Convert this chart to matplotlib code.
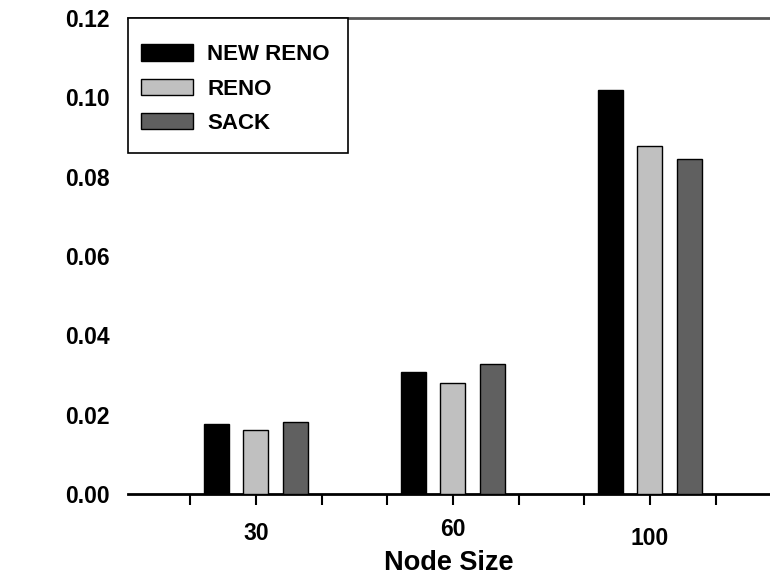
import matplotlib
matplotlib.use("Agg")
import matplotlib.pyplot as plt
import matplotlib.transforms as mtransforms
from matplotlib.patches import Rectangle
import numpy as np

plt.rcParams['font.family'] = ['Liberation Sans', 'DejaVu Sans']
plt.rcParams['font.weight'] = 'bold'

node_sizes = ['30', '60', '100']
newreno = [0.0177, 0.0308, 0.1018]
reno = [0.0161, 0.0281, 0.0877]
sack = [0.0182, 0.0328, 0.0844]
series = [('NEW RENO', newreno, '#000000'),
          ('RENO', reno, '#c0c0c0'),
          ('SACK', sack, '#606060')]

fig = plt.figure(figsize=(7.70, 5.79), dpi=100)
ax = fig.add_axes([0.1662, 0.1468, 0.8338, 0.8221])

x = np.arange(len(node_sizes))
w = 0.127
for i, (name, vals, col) in enumerate(series):
    ax.bar(x + (i - 1) * 0.2, vals, w, color=col, edgecolor='black',
           linewidth=1.0, label=name, zorder=3)

ax.set_xlim(-0.65, 2.61)
ax.set_ylim(0, 0.12)
ax.set_yticks(np.arange(0, 0.121, 0.02))
ax.set_yticklabels(['%.2f' % v for v in np.arange(0, 0.121, 0.02)])
ax.set_xticks(x)
ax.set_xticklabels(node_sizes)
ax.set_xticks(np.arange(-1, 8) / 3.0, minor=True)

ax.tick_params(axis='y', length=0, pad=13, labelsize=16.5)
ax.tick_params(axis='x', which='both', direction='out', length=8, width=1.5,
               labelsize=16.5, pad=12)

for s in ['left', 'right']:
    ax.spines[s].set_visible(False)
ax.spines['bottom'].set_linewidth(2)
ax.spines['top'].set_linewidth(2)
ax.spines['top'].set_color('#555555')

# slight vertical stagger of the category labels
shifts = [0, 3, -4]
for lab, dy in zip(ax.get_xticklabels(), shifts):
    lab.set_transform(lab.get_transform() +
                      mtransforms.ScaledTranslation(0, dy / 72.0, fig.dpi_scale_trans))

ax.set_xlabel('Node Size', fontsize=19.5, fontweight='bold', labelpad=0)

# legend box drawn separately so its padding matches the original
ax.add_patch(Rectangle((0, 0.7164), 0.3427, 0.2836, transform=ax.transAxes,
                       facecolor='white', edgecolor='black', linewidth=1.2,
                       zorder=4, clip_on=False))
leg = ax.legend(loc='upper left', bbox_to_anchor=(0.0202, 0.945), fontsize=16,
                frameon=False, handlelength=2.35, handleheight=0.75,
                handletextpad=0.63, labelspacing=0.6, borderpad=0,
                borderaxespad=0)
leg.set_zorder(5)
for t in leg.get_texts():
    t.set_fontweight('bold')

fig.savefig('out.png', dpi=100)
